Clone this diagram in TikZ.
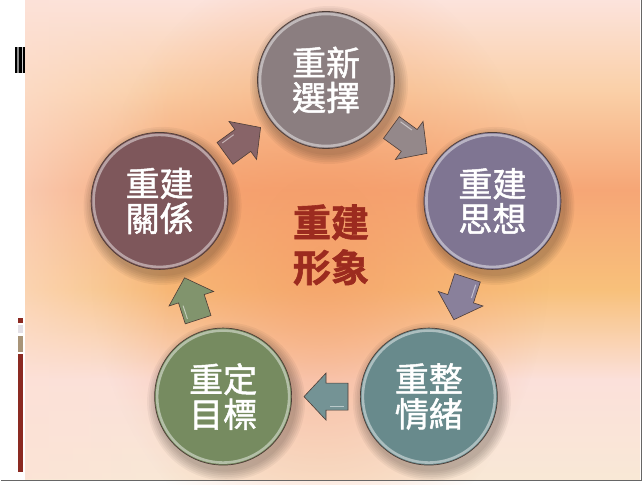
\documentclass[tikz,border=0pt]{standalone}
\usepackage{fontspec}
\newfontfamily\cjk[FakeBold=1.4]{Noto Sans CJK TC}
\newfontfamily\cjkheavy[FakeBold=1.5]{Noto Sans CJK TC Bold}
\usetikzlibrary{calc, fadings}

\definecolor{selectgray}{HTML}{8B7E80}
\definecolor{thinkviolet}{HTML}{7F7592}
\definecolor{moodteal}{HTML}{688A8C}
\definecolor{goalgreen}{HTML}{768B60}
\definecolor{bondmauve}{HTML}{7E575B}
\definecolor{rimdark}{HTML}{4E3D37}
\definecolor{titlered}{HTML}{9C2B1F}
\definecolor{bgtop}{HTML}{FCE3DC}
\definecolor{bgpeach}{HTML}{FAD0A8}
\definecolor{bgsalmon}{HTML}{F6A676}
\definecolor{bggold}{HTML}{F8C07A}
\definecolor{bgpink}{HTML}{FBE0DA}
\definecolor{bgcream}{HTML}{F9E8D6}
\definecolor{bgleft}{HTML}{FDE1D6}
\definecolor{bgglow}{HTML}{F49A66}
\definecolor{barred}{HTML}{8B2A22}
\definecolor{bartan}{HTML}{A89478}
\definecolor{bargray}{HTML}{E3E0E6}

\pgfdeclareverticalshading{slidebg}{100bp}{color(0bp)=(bgcream); color(25bp)=(bgcream); color(35.4bp)=(bgpink); color(44.8bp)=(bggold); color(55.2bp)=(bgsalmon); color(65.6bp)=(bgpeach); color(75bp)=(bgtop); color(100bp)=(bgtop)}
\tikzfading[name=fadeout right, left color=transparent!0, right color=transparent!100]
\tikzfading[name=glowfade, inner color=transparent!30, outer color=transparent!100]

\pgfdeclarelayer{back}
\pgfdeclarelayer{shadow}
\pgfsetlayers{back,shadow,main}

\begin{document}
\begin{tikzpicture}[x=1pt, y=1pt,
		ring/.style = {circle, draw=rimdark, line width=0.7pt, minimum size=137pt, inner sep=0pt, text=white, align=center, font=\cjk\fontsize{34}{35}\selectfont},
		core/.style = {text=titlered, align=center, font=\cjkheavy\fontsize{38}{45}\selectfont},
		cyclearrow/.pic = {
			\path[fill=#1, draw=rimdark, line width=0.6pt] (-22pt,-13.5pt) -- (0pt,-13.5pt) -- (0pt,-23.5pt) -- (22pt,0pt) -- (0pt,23.5pt) -- (0pt,13.5pt) -- (-22pt,13.5pt) -- cycle;
			\draw[white, opacity=0.5, line width=1pt] (-18pt,10pt) -- (-4pt,10pt);
		}
		]
		\useasboundingbox (0,0) rectangle (644,484);
		
		% Slide
		\begin{pgfonlayer}{back}
			\fill[white] (0,0) rectangle (644,484);
			\shade[shading=slidebg] (25,5) rectangle (640,484);
			\fill[bgglow, path fading=glowfade] (320,225) ellipse (230pt and 300pt);
			\fill[bgleft, path fading=fadeout right, fill opacity=0.6] (25,5) rectangle (170,484);
			\draw[black!60, line width=1.6pt] (1,3.5) -- (641.5,3.5) -- (641.5,484);
			% side bars
			\fill[black] (15,411) rectangle (24.5,437);
			\fill[black!45] (17.3,411) rectangle (19.3,437);
			\fill[black!20] (22.3,411) rectangle (23.3,437);
			\fill[barred] (18,161) rectangle (22.7,166);
			\fill[bargray] (18,151) rectangle (22.7,159);
			\fill[bartan] (18,132) rectangle (22.7,148);
			\fill[barred] (18,12) rectangle (22.7,130);
		\end{pgfonlayer}
		
		% Circles
		\coordinate (mid) at (326,229);
		\node[ring, fill=selectgray] (select) at ([shift={(90:175pt)}]mid) {重新\\選擇};
		\node[ring, fill=thinkviolet] (think) at ([shift={(18:175pt)}]mid) {重建\\思想};
		\node[ring, fill=moodteal] (mood) at ([shift={(-54:175pt)}]mid) {重整\\情緒};
		\node[ring, fill=goalgreen] (goal) at ([shift={(-126:175pt)}]mid) {重定\\目標};
		\node[ring, fill=bondmauve] (bond) at ([shift={(162:175pt)}]mid) {重建\\關係};
		\node[core] (image) at (331,239) {重建\\形象};
		
		% Shadows and rims
		\foreach \n in {select, think, mood, goal, bond} {
			\begin{pgfonlayer}{shadow}
				\foreach \k in {0,...,5}
					\fill[black, opacity=0.045] ([shift={(3pt,-5pt)}]\n.center) circle ({79pt-\k*1.8pt});
			\end{pgfonlayer}
			\draw[white, opacity=0.45, line width=2.6pt] (\n.center) circle (66pt);
		}
		
		% Arrows
		\path (bond) -- pic[pos=0.5, sloped, allow upside down] {cyclearrow=bondmauve!92!white} (select);
		\path (select) -- pic[pos=0.5, sloped, allow upside down] {cyclearrow=selectgray!92!white} (think);
		\path (think) -- pic[pos=0.5, sloped, allow upside down] {cyclearrow=thinkviolet!92!white} (mood);
		\path (mood) -- pic[pos=0.5, sloped, allow upside down] {cyclearrow=moodteal!92!white} (goal);
		\path (goal) -- pic[pos=0.5, sloped, allow upside down] {cyclearrow=goalgreen!92!white} (bond);
		
	\end{tikzpicture}
\end{document}
